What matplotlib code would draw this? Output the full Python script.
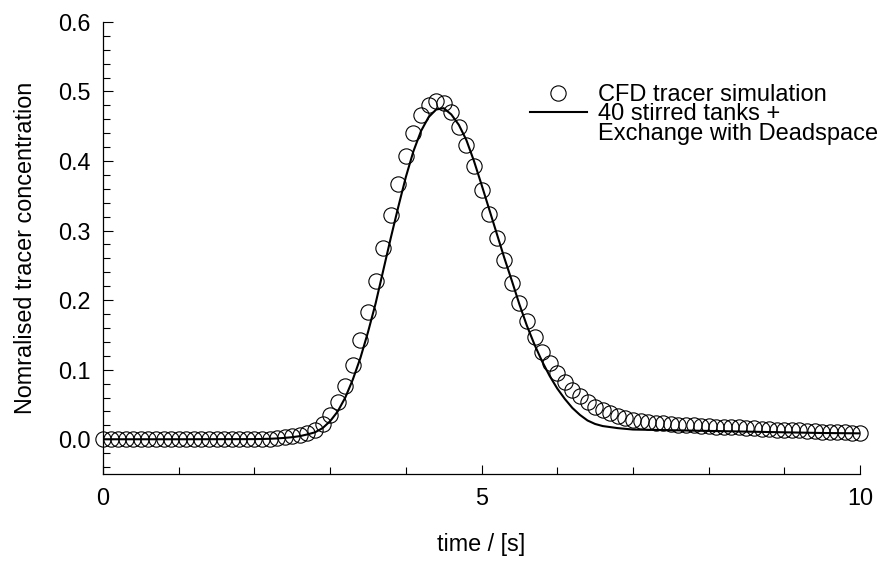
import numpy as np
import matplotlib
matplotlib.use("Agg")
import matplotlib.pyplot as plt
from matplotlib.ticker import MultipleLocator, FormatStrFormatter
from matplotlib.lines import Line2D

plt.rcParams['font.family'] = ['Liberation Sans', 'DejaVu Sans']

# CFD tracer response, written out every 0.1 s
t_cfd = np.linspace(0, 10, 101)
c_cfd = [
    0.000, 0.000, 0.000, 0.000, 0.000, 0.000, 0.000, 0.000, 0.000, 0.000,
    0.000, 0.000, 0.000, 0.000, 0.000, 0.000, 0.000, 0.000, 0.000, 0.000,
    0.000, 0.001, 0.001, 0.002, 0.003, 0.004, 0.006, 0.009, 0.014, 0.022,
    0.035, 0.053, 0.077, 0.107, 0.143, 0.183, 0.228, 0.275, 0.322, 0.367,
    0.407, 0.441, 0.466, 0.481, 0.487, 0.484, 0.470, 0.449, 0.423, 0.393,
    0.359, 0.324, 0.289, 0.257, 0.225, 0.196, 0.170, 0.147, 0.126, 0.109,
    0.095, 0.082, 0.071, 0.062, 0.054, 0.047, 0.042, 0.038, 0.034, 0.031,
    0.028, 0.026, 0.025, 0.024, 0.023, 0.022, 0.021, 0.021, 0.020, 0.019,
    0.019, 0.018, 0.018, 0.017, 0.017, 0.016, 0.016, 0.015, 0.015, 0.014,
    0.014, 0.013, 0.013, 0.012, 0.012, 0.011, 0.011, 0.010, 0.010, 0.009,
    0.009,
]

# 40 tanks in series with dead space exchange
t_model = [0.0, 1.0, 2.0, 2.1, 2.2, 2.3, 2.4, 2.5, 2.6, 2.7, 2.8, 2.9,
           3.0, 3.1, 3.2, 3.3, 3.4, 3.5, 3.6, 3.7, 3.8, 3.9,
           4.0, 4.1, 4.2, 4.3, 4.4, 4.5, 4.6, 4.7, 4.8, 4.9,
           5.0, 5.1, 5.2, 5.3, 5.4, 5.5, 5.6, 5.7, 5.8, 5.9,
           6.0, 6.1, 6.2, 6.3, 6.4, 6.5, 6.6, 6.8, 7.0, 7.5,
           8.0, 8.5, 9.0, 9.5, 10.0]
c_model = [0.0, 0.0, 0.0002, 0.0004, 0.0007, 0.0012, 0.002, 0.003, 0.0045, 0.007, 0.010, 0.016,
           0.026, 0.040, 0.060, 0.086, 0.117, 0.154, 0.195, 0.242, 0.289, 0.334,
           0.377, 0.414, 0.443, 0.463, 0.474, 0.476, 0.467, 0.452, 0.430, 0.400,
           0.366, 0.331, 0.296, 0.261, 0.228, 0.194, 0.163, 0.136, 0.112, 0.091,
           0.073, 0.058, 0.045, 0.035, 0.027, 0.022, 0.019, 0.016, 0.014, 0.013,
           0.012, 0.011, 0.010, 0.009, 0.0085]

fs = 16.8

fig = plt.figure(figsize=(8.86, 5.63), dpi=100)
ax = fig.add_axes([0.1163, 0.158, 0.8544, 0.8031])

line_model, = ax.plot(t_model, c_model, color='black', lw=1.5, zorder=2)
pts_cfd, = ax.plot(t_cfd, c_cfd, 'o', mfc='none', mec='black', ms=11,
                   mew=0.8, zorder=3, clip_on=False)

ax.set_xlim(0, 10)
ax.set_ylim(-0.05, 0.6)

for side in ['top', 'right']:
    ax.spines[side].set_visible(False)
for side in ['left', 'bottom']:
    ax.spines[side].set_linewidth(0.9)

ax.xaxis.set_major_locator(MultipleLocator(5))
ax.xaxis.set_minor_locator(MultipleLocator(1))
ax.yaxis.set_major_locator(MultipleLocator(0.1))
ax.yaxis.set_minor_locator(MultipleLocator(0.02))
ax.yaxis.set_major_formatter(FormatStrFormatter('%.1f'))

ax.tick_params(which='both', direction='in', width=0.8, labelsize=fs, pad=9)
ax.tick_params(axis='y', which='major', length=7.2)
ax.tick_params(axis='y', which='minor', length=5)
ax.tick_params(axis='x', which='major', length=6.5)
ax.tick_params(axis='x', which='minor', length=5)

ax.set_xlabel('time / [s]', fontsize=fs, labelpad=17)
ax.set_ylabel('Nomralised tracer concentration', fontsize=fs, labelpad=15)

# third entry has no handle: it carries the second line of the model label
blank = Line2D([], [], linestyle='none')
ax.legend([pts_cfd, line_model, blank],
          ['CFD tracer simulation', '40 stirred tanks +', 'Exchange with Deadspace'],
          loc='upper left', bbox_to_anchor=(0.564, 0.863), frameon=False,
          fontsize=17, handlelength=2.4, handletextpad=0.5, labelspacing=-0.1,
          borderpad=0, borderaxespad=0, numpoints=1)

fig.savefig('out.png', dpi=100)
